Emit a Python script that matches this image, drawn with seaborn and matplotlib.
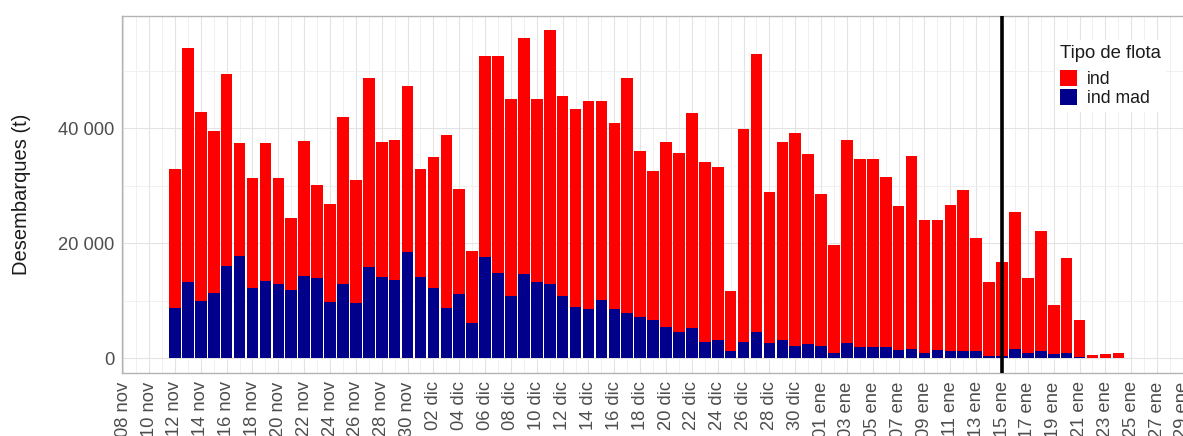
import numpy as np
import pandas as pd
import matplotlib
matplotlib.use("Agg")
import matplotlib.pyplot as plt
import seaborn as sns
from matplotlib.patches import Patch
from matplotlib.ticker import FuncFormatter, FixedLocator

# ---------------- data ----------------
fecha_origen = "2022-11-08"     # first tick of the axis
fecha_inicio = "2022-11-12"     # first day with landings
fecha_linea = "2023-01-15"      # vertical reference line

# daily landings (t), industrial fleet
ind = [24100, 40800, 32900, 28100, 33400, 19600, 19000, 24000, 18400, 12500,
       23500, 16100, 17000, 29100, 21400, 33000, 23400, 24300, 29000,
       18800, 22700, 30000, 18400, 12500, 34800, 37700, 34300, 41100, 31900,
       44200, 34900, 34400, 36300, 34700, 32300, 41000, 28900, 25900, 32200,
       31200, 37400, 31200, 30100, 10400, 36900, 48500, 26200, 34600, 37000,
       33000,
       26400, 18800, 35300, 32800, 32800, 29700, 25000, 33500, 23000, 22500,
       25400, 28000, 19600, 12800, 16300, 23800, 13000, 20800, 8600, 16400,
       6500, 600, 800, 1000]

# daily landings (t), industrial fleet "mad"
ind_mad = [8800, 13200, 9900, 11400, 16100, 17800, 12300, 13400, 12900, 11900,
           14300, 14000, 9800, 12900, 9600, 15800, 14200, 13600, 18400,
           14200, 12300, 8800, 11100, 6200, 17700, 14800, 10800, 14600, 13200,
           12900, 10800, 8900, 8500, 10100, 8600, 7800, 7100, 6700, 5500,
           4500, 5300, 2900, 3100, 1300, 2900, 4500, 2700, 3100, 2200,
           2500,
           2200, 900, 2700, 1900, 1900, 1900, 1500, 1600, 1000, 1500,
           1300, 1200, 1300, 400, 400, 1600, 1000, 1300, 700, 1000,
           200, 0, 0, 0]

tick_labels = ["08 nov", "10 nov", "12 nov", "14 nov", "16 nov", "18 nov",
               "20 nov", "22 nov", "24 nov", "26 nov", "28 nov", "30 nov",
               "02 dic", "04 dic", "06 dic", "08 dic", "10 dic", "12 dic",
               "14 dic", "16 dic", "18 dic", "20 dic", "22 dic", "24 dic",
               "26 dic", "28 dic", "30 dic", "01 ene", "03 ene", "05 ene",
               "07 ene", "09 ene", "11 ene", "13 ene", "15 ene", "17 ene",
               "19 ene", "21 ene", "23 ene", "25 ene", "27 ene", "29 ene"]

flotas = ["ind", "ind mad"]
colores = {"ind": "#FF0000", "ind mad": "#00008B"}

# ---------------- build table ----------------
n = len(ind)
fechas = pd.date_range(fecha_inicio, periods=n, freq="D")
origen = pd.Timestamp(fecha_origen)
dia = np.asarray((fechas - origen).days)
df = pd.DataFrame({
    "dia": np.concatenate([dia, dia]),
    "t": ind + ind_mad,
    "flota": ["ind"] * n + ["ind mad"] * n,
})
dia_linea = (pd.Timestamp(fecha_linea) - origen).days

# ---------------- plot ----------------
sns.set_theme(style="white")
plt.rcParams["font.family"] = ["Liberation Sans", "DejaVu Sans"]

W, H = 1183, 436
fig = plt.figure(figsize=(W / 100, H / 100), dpi=100)
ax = fig.add_axes([121.7 / W, 1 - 373 / H, (1192 - 121.7) / W, (373 - 16) / H])

sns.histplot(data=df, x="dia", weights="t", hue="flota", hue_order=flotas,
             multiple="stack", discrete=True, shrink=0.9, palette=colores,
             alpha=1, linewidth=0, legend=False, ax=ax)

ax.axvline(dia_linea, color="black", lw=2.6, zorder=5)

# axes limits
ax.set_xlim(-0.12, 82.7)
ax.set_ylim(-2560, 59530)

# ticks
ax.set_xticks(np.arange(0, 2 * len(tick_labels), 2))
ax.set_xticklabels(tick_labels, rotation=90, va="top", ha="center")
ax.xaxis.set_minor_locator(FixedLocator(np.arange(1, 2 * len(tick_labels), 2)))
ax.set_yticks([0, 20000, 40000])
ax.yaxis.set_minor_locator(FixedLocator([10000, 30000, 50000]))
ax.yaxis.set_major_formatter(FuncFormatter(lambda v, p: f"{int(v):,}".replace(",", " ")))

ax.tick_params(axis="both", which="major", length=3.5, width=0.8, color="#B3B3B3",
               labelsize=13.2, labelcolor="#4D4D4D", pad=2)
ax.tick_params(axis="both", which="minor", length=0)
ax.tick_params(axis="x", pad=2.5)

# grid
ax.set_axisbelow(True)
ax.grid(True, which="major", color="#E3E3E3", lw=0.8)
ax.grid(True, which="minor", color="#EEEEEE", lw=0.6)

for s in ax.spines.values():
    s.set_color("#B3B3B3")
    s.set_linewidth(1.0)

ax.set_xlabel("")
ax.set_ylabel("Desembarques (t)", fontsize=14.5, color="#1A1A1A", labelpad=19)

# legend
handles = [Patch(facecolor=colores[f], edgecolor="none") for f in flotas]
leg = ax.legend(handles, flotas, title="Tipo de flota", loc="upper left",
                bbox_to_anchor=(1046 / W, 1 - 31 / H), bbox_transform=fig.transFigure,
                frameon=True, facecolor="white", edgecolor="none", framealpha=1,
                fontsize=12.7, title_fontsize=13.3, handlelength=0.95,
                handleheight=1.0, labelspacing=0.08, handletextpad=0.55,
                borderpad=0.3, alignment="left")
leg._legend_box.sep = 5.5
leg.get_title().set_color("#1A1A1A")
for t in leg.get_texts():
    t.set_color("#1A1A1A")

fig.savefig("out.png", dpi=100)
